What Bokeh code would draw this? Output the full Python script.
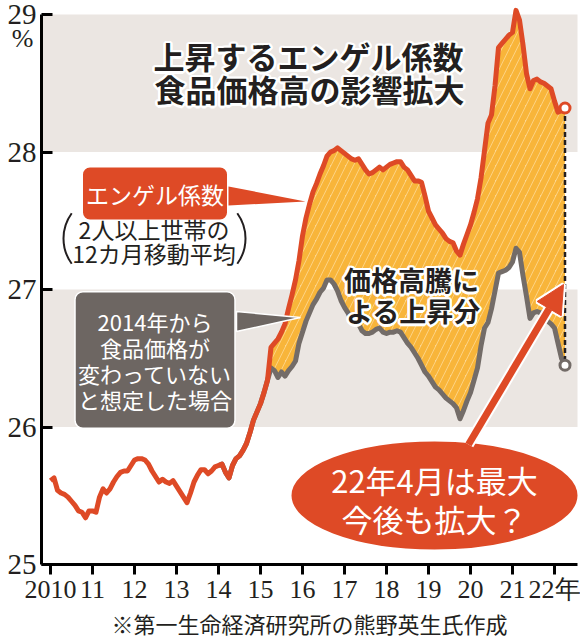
import numpy as np
from bokeh.plotting import figure
from bokeh.models import Range1d, BoxAnnotation, Label, Arrow, NormalHead, FixedTicker
from bokeh.core.properties import value
from bokeh.embed import file_html
from bokeh.resources import INLINE

# ---------------- data ----------------
start_year = 2010
# Engel coefficient, 2+ person households, 12-month moving average (monthly, 2010-01 .. 2022-04)
engel = [
    25.61, 25.63, 25.54, 25.52, 25.51, 25.49, 25.46, 25.43, 25.39, 25.38, 25.34, 25.39,  # 2010
    25.39, 25.38, 25.49, 25.55, 25.52, 25.55, 25.60, 25.64, 25.67, 25.68, 25.68, 25.72,  # 2011
    25.76, 25.77, 25.77, 25.76, 25.73, 25.68, 25.64, 25.60, 25.62, 25.60, 25.59, 25.61,  # 2012
    25.57, 25.53, 25.49, 25.45, 25.52, 25.60, 25.65, 25.69, 25.69, 25.66, 25.68, 25.71,  # 2013
    25.72, 25.73, 25.67, 25.63, 25.72, 25.77, 25.79, 25.83, 25.88, 25.96, 26.05, 26.11,  # 2014
    26.17, 26.25, 26.34, 26.58, 26.61, 26.64, 26.69, 26.75, 26.86, 26.96, 27.07, 27.21,  # 2015
    27.39, 27.52, 27.62, 27.71, 27.77, 27.84, 27.90, 27.97, 28.00, 28.01, 28.03, 28.01,  # 2016
    27.99, 27.97, 27.95, 27.94, 27.95, 27.91, 27.87, 27.84, 27.85, 27.87, 27.89, 27.87,  # 2017
    27.89, 27.91, 27.92, 27.93, 27.93, 27.89, 27.87, 27.83, 27.79, 27.79, 27.78, 27.68,  # 2018
    27.57, 27.52, 27.47, 27.44, 27.41, 27.37, 27.35, 27.34, 27.28, 27.25, 27.33, 27.40,  # 2019
    27.47, 27.56, 27.66, 27.81, 28.01, 28.21, 28.27, 28.48, 28.76, 28.79, 28.82, 28.85,  # 2020
    28.87, 29.03, 28.96, 28.78, 28.57, 28.46, 28.52, 28.53, 28.51, 28.50, 28.48, 28.46,  # 2021
    28.37, 28.29, 28.30, 28.32,                                                          # 2022
]
# Counterfactual: food prices unchanged since 2014 (monthly, 2014-01 .. 2022-04)
cf_start_year = 2014
no_price_change = [
    25.72, 25.73, 25.67, 25.63, 25.72, 25.77, 25.79, 25.83, 25.88, 25.96, 26.05, 26.11,  # 2014
    26.17, 26.25, 26.34, 26.43, 26.41, 26.36, 26.40, 26.37, 26.41, 26.44, 26.48, 26.61,  # 2015
    26.69, 26.77, 26.83, 26.89, 26.93, 26.98, 27.01, 27.07, 27.07, 27.04, 26.99, 26.92,  # 2016
    26.87, 26.83, 26.77, 26.76, 26.75, 26.70, 26.68, 26.68, 26.69, 26.71, 26.72, 26.69,  # 2017
    26.68, 26.69, 26.69, 26.70, 26.69, 26.65, 26.61, 26.58, 26.54, 26.50, 26.45, 26.40,  # 2018
    26.37, 26.33, 26.29, 26.27, 26.24, 26.21, 26.19, 26.17, 26.14, 26.06, 26.12, 26.19,  # 2019
    26.25, 26.34, 26.43, 26.59, 26.72, 26.76, 26.86, 26.99, 27.12, 27.13, 27.14, 27.16,  # 2020
    27.20, 27.30, 27.27, 27.10, 26.95, 26.79, 26.83, 26.84, 26.83, 26.80, 26.77, 26.75,  # 2021
    26.72, 26.61, 26.50, 26.45,                                                          # 2022
]
x_ticks = [2010, 2011, 2012, 2013, 2014, 2015, 2016, 2017, 2018, 2019, 2020, 2021, 2022]
x_tick_labels = ["2010", "11", "12", "13", "14", "15", "16", "17", "18", "19", "20", "21", "22年"]
y_ticks = [25, 26, 27, 28, 29]
y_unit = "%"
source_note = "※第一生命経済研究所の熊野英生氏作成"

# ---------------- styles ----------------
JP = "Noto Sans CJK JP"
NUM = "Liberation Sans Narrow"
RED = "#de4a26"
GRAY = "#736c68"
BOX_GRAY = "#6d6662"
BAND = "#ebe6e2"
INK = "#231f20"

t = start_year + np.arange(len(engel)) / 12.0
t_cf = cf_start_year + np.arange(len(no_price_change)) / 12.0
i0 = int(round((cf_start_year - start_year) * 12))
engel_cf_span = engel[i0:]

# picture-pixel -> data helpers (for annotation placement only)
def dx(X):
    return 2010 + (X - 50) / 42.0

def dy(Y):
    return 25 + (564 - Y) / 137.5

W, H = 580, 640
AX_LEFT, AX_RIGHT = dx(41), dx(577)

p = figure(width=W, height=H,
           x_range=Range1d(dx(0), dx(W)), y_range=Range1d(dy(H), dy(0)),
           output_backend="svg", toolbar_location=None,
           min_border_left=0, min_border_right=0, min_border_top=0, min_border_bottom=0)
p.outline_line_color = None
p.grid.visible = False

# axes placed at fixed data locations inside the frame
p.yaxis.fixed_location = AX_LEFT
p.yaxis.ticker = FixedTicker(ticks=y_ticks)
p.yaxis.bounds = (25, 29)
p.yaxis.major_tick_in = 11
p.yaxis.major_tick_out = 0
p.yaxis.minor_tick_in = 0
p.yaxis.minor_tick_out = 0
p.yaxis.axis_line_width = 3
p.yaxis.major_tick_line_width = 3
p.yaxis.major_label_text_font = NUM
p.yaxis.major_label_text_font_size = "29px"
p.yaxis.major_label_text_color = INK
p.yaxis.major_label_standoff = 5

p.xaxis.fixed_location = 25
p.xaxis.ticker = FixedTicker(ticks=x_ticks)
p.xaxis.bounds = (AX_LEFT, AX_RIGHT)
p.xaxis.major_label_overrides = {yr: lab for yr, lab in zip(x_ticks, x_tick_labels)}
p.xaxis.major_tick_in = 0
p.xaxis.major_tick_out = 10
p.xaxis.minor_tick_in = 0
p.xaxis.minor_tick_out = 0
p.xaxis.axis_line_width = 3
p.xaxis.major_tick_line_width = 3
p.xaxis.major_label_text_font = NUM
p.xaxis.major_label_text_font_size = "26px"
p.xaxis.major_label_text_color = INK
p.xaxis.major_label_standoff = 0

# bands
for lo, hi in [(26, 27), (28, 29)]:
    p.add_layout(BoxAnnotation(left=AX_LEFT, right=AX_RIGHT, bottom=lo, top=hi,
                               fill_color=BAND, fill_alpha=1, line_color=None, level="underlay"))

# hatched gap
p.varea(x=t_cf, y1=no_price_change, y2=engel_cf_span, fill_color="#fcd791",
        hatch_pattern="/", hatch_color="#f8b53a", hatch_weight=6, hatch_scale=15)

# lines
p.line(t_cf, no_price_change, line_color=GRAY, line_width=5, line_join="round")
p.line(t, engel, line_color=RED, line_width=5, line_join="round")

# dashed connector and end markers
p.segment(x0=[t[-1]], y0=[engel[-1]], x1=[t_cf[-1]], y1=[no_price_change[-1]],
          line_color=INK, line_width=2.5, line_dash="5 3")
p.scatter([t[-1]], [engel[-1]], size=10, fill_color="white", line_color=RED, line_width=3)
p.scatter([t_cf[-1]], [no_price_change[-1]], size=10, fill_color="white", line_color=GRAY, line_width=3)

# callout pointers
p.patch([dx(228), dx(305), dx(228)], [dy(186), dy(201), dy(205)], fill_color=RED, line_color=None)
p.patch([dx(236), dx(300), dx(236)], [dy(311), dy(317), dy(331)], fill_color=BOX_GRAY,
        line_color="white", line_width=1.5)

# red label box
p.add_layout(Label(x=dx(154.5), y=dy(193), text="エンゲル係数", text_font=JP,
                   text_font_size="23px", text_color="white", text_align="center",
                   text_baseline="middle", background_fill_color=RED,
                   border_radius=7, padding=(3, 9)))

# parenthetical note
p.text(x=[dx(153.5), dx(153.5)], y=[dy(228), dy(252)], text=["2人以上世帯の", "12カ月移動平均"],
       text_font=value(JP), text_font_size="23px", text_color=INK,
       text_align="center", text_baseline="middle")
p.arc(x=[dx(106)], y=[dy(238)], radius=43, radius_units="screen",
      start_angle=np.radians(144), end_angle=np.radians(216), line_color=INK, line_width=2)
p.arc(x=[dx(202)], y=[dy(238)], radius=43, radius_units="screen",
      start_angle=np.radians(-36), end_angle=np.radians(36), line_color=INK, line_width=2)

# gray label box
p.add_layout(Label(x=dx(154.5), y=dy(359.5),
                   text="2014年から\n食品価格が\n変わっていない\nと想定した場合",
                   text_font=JP, text_font_size="22px", text_color="white",
                   text_align="center", text_baseline="middle", text_line_height=0.82,
                   background_fill_color=BOX_GRAY, border_line_color="white",
                   border_line_width=1.5, border_radius=8, padding=(3, 13)))

# halo text helper
def halo_text(xs, ys, texts, size, color=INK, halo="white", r=2.5):
    for a in range(0, 360, 30):
        ox, oy = r * np.cos(np.radians(a)), r * np.sin(np.radians(a))
        p.text(x=xs, y=ys, text=texts, text_font=value(JP), text_font_size=size,
               text_font_style="bold", text_color=halo, text_align="center",
               text_baseline="middle", x_offset=ox, y_offset=oy)
    p.text(x=xs, y=ys, text=texts, text_font=value(JP), text_font_size=size,
           text_font_style="bold", text_color=color, text_align="center",
           text_baseline="middle")

halo_text([dx(308), dx(309)], [dy(55), dy(88)],
          ["上昇するエンゲル係数", "食品価格高の影響拡大"], "31px")
halo_text([dx(411), dx(413)], [dy(279), dy(310)],
          ["価格高騰に", "よる上昇分"], "27px")

# ellipse + arrow
p.ellipse(x=[dx(434)], y=[dy(495)], width=288, height=110, width_units="screen",
          height_units="screen", fill_color=RED, line_color="white", line_width=2)
p.text(x=[dx(434), dx(434)], y=[dy(479), dy(518)], text=["22年4月は最大", "今後も拡大？"],
       text_font=value(JP), text_font_size="31px", text_color="white",
       text_align="center", text_baseline="middle")
p.add_layout(Arrow(x_start=dx(468), y_start=dy(444), x_end=dx(563), y_end=dy(284),
                   line_color="white", line_width=11, line_cap="butt",
                   end=NormalHead(size=28, fill_color="white", line_color="white", line_width=5)))
p.add_layout(Arrow(x_start=dx(468), y_start=dy(444), x_end=dx(563), y_end=dy(284),
                   line_color=RED, line_width=7, line_cap="butt",
                   end=NormalHead(size=28, fill_color=RED, line_color=RED, line_width=1)))

# unit and source note
p.add_layout(Label(x=dx(22), y=dy(38), text=y_unit, text_font=NUM, text_font_size="26px",
                   text_color=INK, text_align="center", text_baseline="middle"))
p.add_layout(Label(x=dx(309), y=dy(622), text=source_note, text_font=JP,
                   text_font_size="22px", text_color=INK,
                   text_align="center", text_baseline="middle"))

open("out.html", "w").write(file_html(p, INLINE))
